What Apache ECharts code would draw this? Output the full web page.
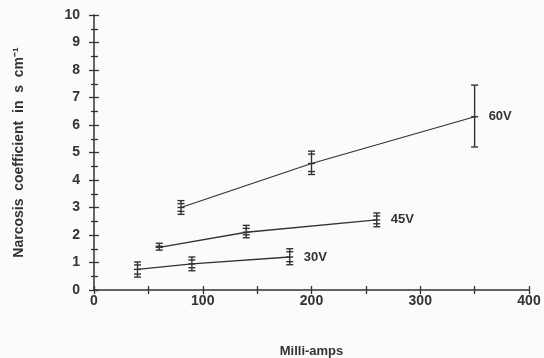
<!DOCTYPE html>
<html><head><meta charset="utf-8">
<script src="https://cdn.jsdelivr.net/npm/echarts@6/dist/echarts.min.js"></script>
<style>html,body{margin:0;padding:0;background:#fbfbf9;}#c{width:544px;height:358px;}</style>
</head><body><div id="c"></div>
<script>
const xTicks = [0, 100, 200, 300, 400];
const yTicks = [0,1,2,3,4,5,6,7,8,9,10];
const seriesNames = ['30V', '45V', '60V'];
const current30 = [40, 90, 180];
const coef30 = [0.75, 0.95, 1.2];
const low30 = [0.47, 0.7, 0.92];
const high30 = [1.02, 1.2, 1.5];
const current45 = [60, 140, 260];
const coef45 = [1.55, 2.1, 2.55];
const low45 = [1.45, 1.9, 2.3];
const high45 = [1.7, 2.35, 2.8];
const current60 = [80, 200, 350];
const coef60 = [3.0, 4.6, 6.3];
const low60 = [2.75, 4.2, 5.2];
const high60 = [3.25, 5.05, 7.45];

const groups = [
  [current30, coef30, low30, high30],
  [current45, coef45, low45, high45],
  [current60, coef60, low60, high60]
];
const ink = '#333333';
const font = 'Liberation Sans, Arial, sans-serif';
const series = [];
groups.forEach((g, i) => {
  const [xs, ys, lo, hi] = g;
  series.push({
    type: 'line', name: seriesNames[i], symbol: 'none',
    lineStyle: {color: ink, width: 1.3},
    data: xs.map((x, k) => [x, ys[k]]),
    endLabel: {show: true, formatter: seriesNames[i], color: ink, fontFamily: font,
      fontWeight: 'bold', fontSize: 13, distance: 14},
    z: 3
  });
  series.push({
    type: 'custom', name: seriesNames[i] + ' err',
    data: xs.map((x, k) => [x, ys[k], lo[k], hi[k]]),
    renderItem: function (params, api) {
      const x = api.value(0);
      const c = api.coord([x, api.value(1)]);
      const l = api.coord([x, api.value(2)]);
      const h = api.coord([x, api.value(3)]);
      const w = 3.5;
      const st = {stroke: ink, lineWidth: 1.4};
      const items = [
        {type: 'line', shape: {x1: c[0], y1: h[1], x2: c[0], y2: l[1]}, style: st},
        {type: 'line', shape: {x1: c[0]-w, y1: h[1], x2: c[0]+w, y2: h[1]}, style: st},
        {type: 'line', shape: {x1: c[0]-w, y1: l[1], x2: c[0]+w, y2: l[1]}, style: st},
        {type: 'line', shape: {x1: c[0]-w, y1: c[1], x2: c[0]+w, y2: c[1]}, style: st}
      ];
      if (l[1] - h[1] < 30) {
        items.push({type: 'line', shape: {x1: c[0]-w, y1: h[1]+3, x2: c[0]+w, y2: h[1]+3}, style: st});
        items.push({type: 'line', shape: {x1: c[0]-w, y1: l[1]-3, x2: c[0]+w, y2: l[1]-3}, style: st});
      }
      return {type: 'group', children: items};
    },
    z: 4
  });
});

const chart = echarts.init(document.getElementById('c'));
chart.setOption({
  backgroundColor: '#fbfbf9',
  animation: false,
  grid: {left: 94, right: 15, top: 15, bottom: 68, containLabel: false, outerBoundsMode: 'none'},
  xAxis: [{
    type: 'value', min: xTicks[0], max: xTicks[xTicks.length-1], interval: 100,
    name: 'Milli-amps', nameLocation: 'middle', nameGap: 55,
    nameTextStyle: {color: ink, fontFamily: font, fontWeight: 'bold', fontSize: 13},
    axisLine: {lineStyle: {color: ink, width: 1.5}},
    axisTick: {show: true, length: 4, lineStyle: {color: ink, width: 1.3}},
    minorTick: {show: true, splitNumber: 2, length: 4, lineStyle: {color: ink, width: 1.3}},
    axisLabel: {color: ink, fontFamily: font, fontWeight: 'bold', fontSize: 14, margin: 4},
    splitLine: {show: false}
  }, {
    type: 'value', position: 'bottom', min: 0, max: 400, interval: 100,
    axisLine: {show: false},
    axisTick: {show: true, inside: true, length: 4, lineStyle: {color: ink, width: 1.3}},
    minorTick: {show: true, splitNumber: 2, length: 4, lineStyle: {color: ink, width: 1.3}},
    axisLabel: {show: false}, splitLine: {show: false}
  }],
  yAxis: [{
    type: 'value', min: yTicks[0], max: yTicks[yTicks.length-1], interval: 1,
    name: 'Narcosis  coefficient  in  s  cm\u207B\u00B9', nameLocation: 'middle', nameGap: 68,
    nameTextStyle: {color: ink, fontFamily: font, fontWeight: 'bold', fontSize: 14, padding: [0, 0, 0, 0]},
    axisLine: {lineStyle: {color: ink, width: 1.5}},
    axisTick: {show: true, length: 5, lineStyle: {color: ink, width: 1.3}},
    minorTick: {show: true, splitNumber: 2, length: 3, lineStyle: {color: ink, width: 1.3}},
    axisLabel: {color: ink, fontFamily: font, fontWeight: 'bold', fontSize: 14, margin: 14},
    splitLine: {show: false}
  }, {
    type: 'value', position: 'left', min: 0, max: 10, interval: 1,
    axisLine: {show: false},
    axisTick: {show: true, inside: true, length: 5, lineStyle: {color: ink, width: 1.3}},
    minorTick: {show: true, splitNumber: 2, length: 4, lineStyle: {color: ink, width: 1.3}},
    axisLabel: {show: false}, splitLine: {show: false}
  }],
  series: series
});
</script></body></html>
